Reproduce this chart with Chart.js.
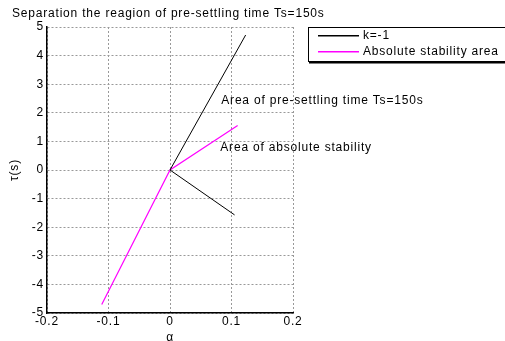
<!DOCTYPE html>
<html>
<head>
<meta charset="utf-8">
<script src="https://cdn.jsdelivr.net/npm/chart.js@4"></script>
<style>
  body { margin: 0; background: #fff; }
</style>
</head>
<body>
<canvas id="myChart" width="505" height="341"></canvas>
<script>
let titleText = 'Separation the reagion of pre-settling time Ts=150s';
let xTicks = [-0.2, -0.1, 0, 0.1, 0.2];
let yTicks = [-5, -4, -3, -2, -1, 0, 1, 2, 3, 4, 5];

let labels = ['k=-1', 'Absolute stability area'];
let colors = ['#000000', '#ff00ff'];

let kAlpha = [0.123, 0, 0.105];
let kTau = [4.72, 0, -1.57];
let absAlpha = [-0.111, 0, 0.11];
let absTau = [-4.7, 0, 1.56];

let notes = ['Area of pre-settling time Ts=150s', 'Area of absolute stability'];
let noteAlpha = [0.0834, 0.0818];
let noteTau = [2.41, 0.77];

function toPoints(xs, ys) {
    return xs.map((x, i) => ({ x: x, y: ys[i] }));
}

let font = '12px "Liberation Sans", Arial, sans-serif';

// title, axis names, legend box and in-plot notes
let extras = {
    id: 'extras',
    beforeDraw(chart) {
        chart.ctx.letterSpacing = '0.8px';
    },
    afterDraw(chart) {
        let ctx = chart.ctx;
        let x = chart.scales.x;
        let y = chart.scales.y;
        ctx.save();
        ctx.letterSpacing = '0.8px';
        ctx.fillStyle = '#000';
        ctx.font = font;
        ctx.textBaseline = 'middle';
        ctx.textAlign = 'left';
        ctx.fillText(titleText, 12, 14);

        for (let i = 0; i < notes.length; i++) {
            ctx.fillText(notes[i], x.getPixelForValue(noteAlpha[i]), y.getPixelForValue(noteTau[i]));
        }

        ctx.textAlign = 'center';
        ctx.fillText('\u03b1', (chart.chartArea.left + chart.chartArea.right) / 2, 338);
        ctx.save();
        ctx.translate(15, 170);
        ctx.rotate(-Math.PI / 2);
        ctx.fillText('\u03c4(s)', 0, 0);
        ctx.restore();

        // legend
        ctx.fillStyle = '#fff';
        ctx.fillRect(308, 27, 200, 35);
        ctx.strokeStyle = '#000';
        ctx.lineWidth = 1;
        ctx.strokeRect(308.5, 27.5, 200, 34);
        ctx.fillStyle = '#000';
        ctx.fillRect(309, 62, 200, 1.5);
        ctx.textAlign = 'left';
        for (let i = 0; i < labels.length; i++) {
            let ly = 35 + i * 16;
            ctx.fillStyle = colors[i];
            ctx.fillRect(318, ly, 41, 1.5);
            ctx.fillStyle = '#000';
            ctx.fillText(labels[i], 363, ly + 0.5);
        }
        ctx.restore();
    }
};

let myChart = document.getElementById('myChart').getContext('2d');
let chart = new Chart(myChart, {
    type: 'scatter',
    data: {
        datasets: [
            {
                label: labels[0],
                data: toPoints(kAlpha, kTau),
                showLine: true,
                borderColor: colors[0],
                backgroundColor: colors[0],
                borderWidth: 1,
                pointRadius: 0,
                tension: 0
            },
            {
                label: labels[1],
                data: toPoints(absAlpha, absTau),
                showLine: true,
                borderColor: colors[1],
                backgroundColor: colors[1],
                borderWidth: 1.2,
                pointRadius: 0,
                tension: 0
            }
        ]
    },
    options: {
        responsive: false,
        animation: false,
        layout: {
            padding: { left: 0, right: 212, top: 27, bottom: 0 }
        },
        plugins: {
            legend: { display: false },
            title: { display: false },
            tooltip: { enabled: false }
        },
        scales: {
            x: {
                type: 'linear',
                min: xTicks[0],
                max: xTicks[xTicks.length - 1],
                afterFit(scale) { scale.height = 28; },
                afterBuildTicks(scale) {
                    scale.ticks = xTicks.map(v => ({ value: v }));
                },
                ticks: {
                    color: '#000',
                    font: { family: '"Liberation Sans", Arial, sans-serif', size: 12 },
                    padding: 1,
                    maxRotation: 0,
                    autoSkip: false,
                    callback: v => String(v)
                },
                grid: {
                    color: '#999',
                    drawTicks: false
                },
                border: { display: true, color: '#000', width: 1.5, dash: [2, 2] }
            },
            y: {
                type: 'linear',
                min: yTicks[0],
                max: yTicks[yTicks.length - 1],
                afterFit(scale) { scale.width = 47; },
                afterBuildTicks(scale) {
                    scale.ticks = yTicks.map(v => ({ value: v }));
                },
                ticks: {
                    color: '#000',
                    font: { family: '"Liberation Sans", Arial, sans-serif', size: 12 },
                    padding: 3,
                    autoSkip: false,
                    callback: v => String(v)
                },
                grid: {
                    color: '#999',
                    drawTicks: false
                },
                border: { display: true, color: '#000', width: 1.5, dash: [2, 2] }
            }
        }
    },
    plugins: [extras]
});
</script>
</body>
</html>
